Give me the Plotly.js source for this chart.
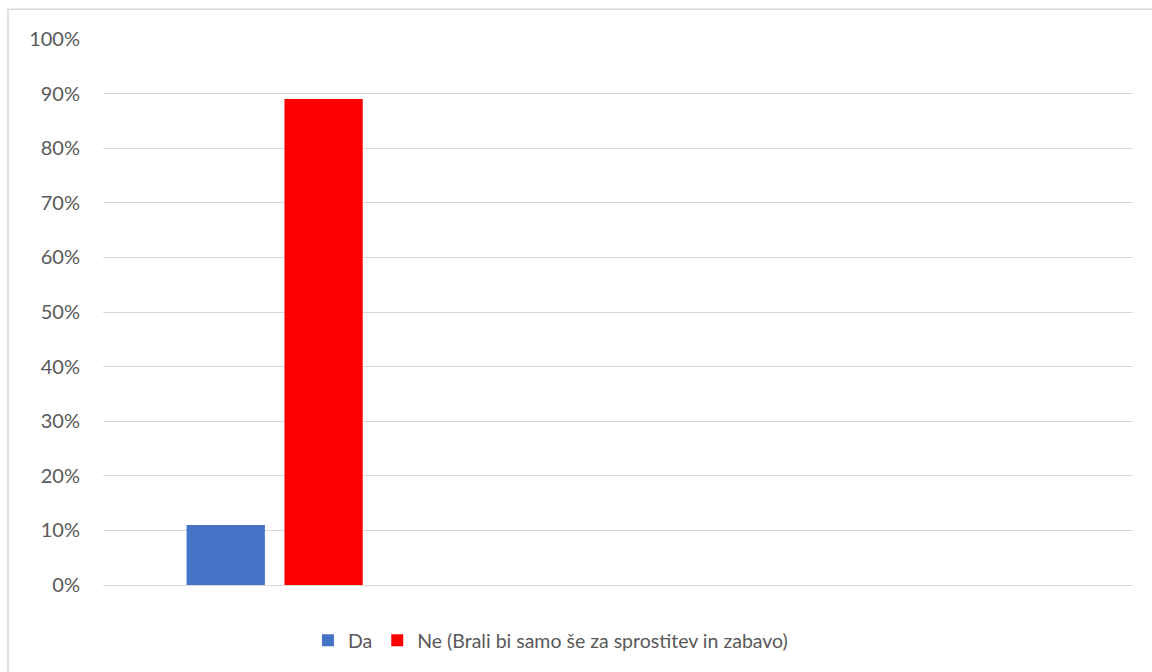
<!DOCTYPE html>
<html>
<head>
<meta charset="utf-8">
<script src="https://cdn.plot.ly/plotly-3.0.1.min.js"></script>
<style>html,body{margin:0;padding:0;background:#fff;}#chart{width:1152px;height:672px;}</style>
</head>
<body>
<div id="chart"></div>
<script>
const categories = ["Q1"];
const seriesNames = ["Da", "Ne (Brali bi samo še za sprostitev in zabavo)"];
const daValues = [0.11];
const neValues = [0.89];
const seriesColors = ["#4472C4", "#FF0000"];
const tickValues = [0, 0.1, 0.2, 0.3, 0.4, 0.5, 0.6, 0.7, 0.8, 0.9, 1.0];
const tickLabels = ["0%", "10%", "20%", "30%", "40%", "50%", "60%", "70%", "80%", "90%", "100%"];

const fontFam = "Lato, 'Open Sans', 'Liberation Sans', sans-serif";
const traces = [
  {type: "bar", name: seriesNames[0], x: categories, y: daValues, marker: {color: seriesColors[0]}, hoverinfo: "none"},
  {type: "bar", name: seriesNames[1], x: categories, y: neValues, marker: {color: seriesColors[1]}, hoverinfo: "none"}
];
const layout = {
  width: 1152, height: 672,
  margin: {l: 103, r: 19, t: 39, b: 85},
  paper_bgcolor: "#fff", plot_bgcolor: "#fff",
  barmode: "group", bargap: 0.43, bargroupgap: 0.2,
  font: {family: fontFam, size: 19, color: "#595959"},
  xaxis: {type: "category", range: [-0.5, 2.5], showticklabels: false, showgrid: false, zeroline: false, showline: false, fixedrange: true},
  yaxis: {range: [0, 1.0], tickvals: tickValues, ticktext: tickLabels, showgrid: true, gridcolor: "#d9d9d9", gridwidth: 1,
          zeroline: true, zerolinecolor: "#d9d9d9", zerolinewidth: 1, showline: false, ticks: "", ticklabelstandoff: 22,
          tickfont: {family: fontFam, size: 20, color: "#595959"}, fixedrange: true},
  showlegend: true,
  legend: {orientation: "h", x: 0.199, xanchor: "left", y: -0.102, yanchor: "middle",
           font: {family: fontFam, size: 19.5, color: "#595959"}, itemwidth: 30, tracegroupgap: 0},
  shapes: [{type: "rect", xref: "paper", yref: "paper", x0: -0.0922, x1: 1.2, y0: -0.3, y1: 1.0547,
            line: {color: "#d9d9d9", width: 1.5}, fillcolor: "rgba(0,0,0,0)", layer: "below"}]
};
Plotly.newPlot("chart", traces, layout, {displayModeBar: false, staticPlot: true});
</script>
</body>
</html>
